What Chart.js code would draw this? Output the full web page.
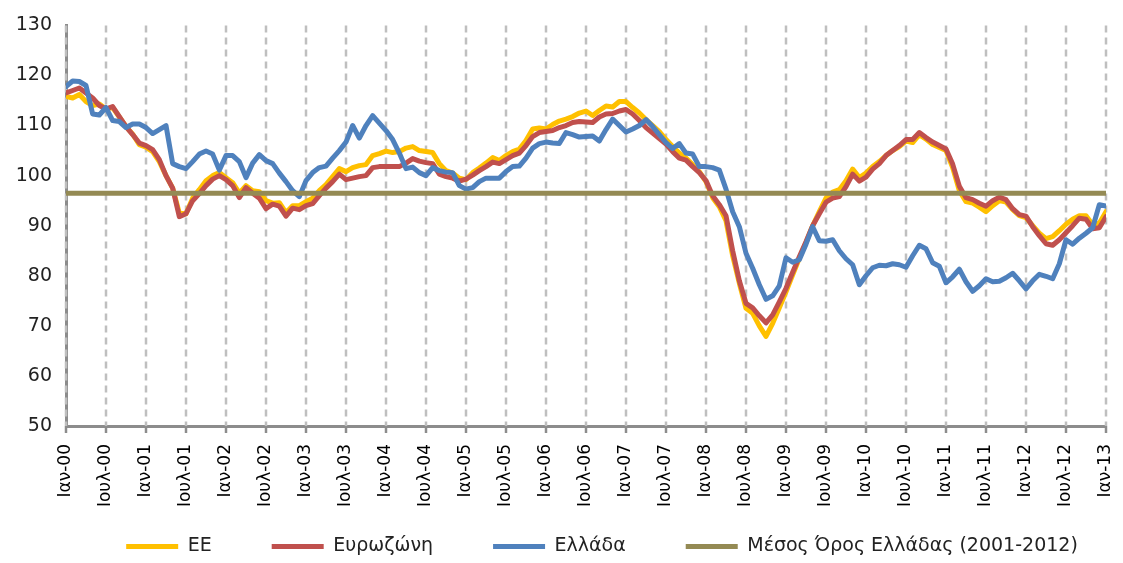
<!DOCTYPE html>
<html>
<head>
<meta charset="utf-8">
<script src="https://cdn.jsdelivr.net/npm/chart.js@4.4.1/dist/chart.umd.min.js"></script>
<style>
  html, body { margin: 0; padding: 0; background: #fff; }
  #wrap { width: 1123px; height: 563px; }
</style>
</head>
<body>
<div id="wrap"><canvas id="canvas1"></canvas></div>
<script>
// monthly, Jan 2000 .. Jan 2013
var tickLabels = [
  "Ιαν-00", "Ιουλ-00", "Ιαν-01", "Ιουλ-01", "Ιαν-02", "Ιουλ-02", "Ιαν-03", "Ιουλ-03",
  "Ιαν-04", "Ιουλ-04", "Ιαν-05", "Ιουλ-05", "Ιαν-06", "Ιουλ-06", "Ιαν-07", "Ιουλ-07",
  "Ιαν-08", "Ιουλ-08", "Ιαν-09", "Ιουλ-09", "Ιαν-10", "Ιουλ-10", "Ιαν-11", "Ιουλ-11",
  "Ιαν-12", "Ιουλ-12", "Ιαν-13"
];

var seriesNames = ["ΕΕ", "Ευρωζώνη", "Ελλάδα", "Μέσος Όρος Ελλάδας (2001-2012)"];

var eu = [
  115.8, 115.5, 116.2, 114.8, 114.0, 114.3, 113.3, 113.6, 111.7, 109.8, 108.3, 106.2,
  105.7, 104.8, 102.8, 100.0, 97.5, 92.5, 92.4, 95.5, 97.2, 99.0, 100.0, 100.6,
  99.6, 98.6, 96.5, 98.0, 97.0, 96.8, 95.0, 94.5, 94.6, 92.6, 94.0, 94.0,
  94.8, 95.5, 97.0, 98.2, 99.8, 101.4, 100.8, 101.6, 102.0, 102.2, 104.0, 104.4,
  104.9, 104.6, 104.8, 105.5, 105.8, 105.0, 104.8, 104.6, 102.4, 101.0, 100.5, 99.5,
  99.2, 100.6, 101.5, 102.5, 103.6, 103.0, 104.0, 104.8, 105.3, 107.0, 109.3, 109.5,
  109.3, 110.2, 110.9, 111.3, 111.8, 112.5, 112.9, 112.0, 113.0, 113.9, 113.7, 114.8,
  114.8, 113.6, 112.5, 111.2, 110.0, 108.8, 107.2, 105.8, 104.5, 103.5, 102.2, 100.8,
  98.8, 95.6, 93.8, 91.0, 84.0, 78.5, 73.5, 72.5, 70.0, 67.9, 70.5, 73.6,
  76.8, 80.2, 83.5, 86.6, 90.0, 92.8, 95.5, 96.7, 97.2, 99.0, 101.3, 99.6,
  100.5, 101.8, 102.8, 104.0, 105.0, 105.8, 106.9, 106.6, 108.2, 107.3, 106.2, 105.6,
  105.0, 101.6, 97.0, 94.8, 94.5, 93.7, 92.8, 94.0, 95.0, 94.7, 93.2, 92.0,
  91.6, 90.0, 88.5, 87.4, 87.8, 89.0, 90.3, 91.3, 92.0, 92.0, 90.2, 90.5,
  92.8
];

var eurozone = [
  116.5, 117.0, 117.5, 116.5, 115.5, 114.0, 113.3, 113.8, 111.8, 109.8, 108.2, 106.5,
  106.0, 105.2, 103.2, 100.0, 97.5, 91.8, 92.4, 95.0, 96.4, 98.0, 99.3, 100.0,
  99.2, 98.0, 95.6, 97.6, 96.5, 95.5, 93.4, 94.3, 93.9, 91.9, 93.5, 93.2,
  94.0, 94.4, 96.0, 97.5, 98.8, 100.3, 99.2, 99.5, 99.8, 100.0, 101.6, 101.8,
  101.8, 101.8, 101.8, 102.5, 103.4, 102.9, 102.6, 102.4, 100.3, 99.8, 99.5, 98.9,
  99.3, 100.1, 101.0, 101.8, 102.7, 102.4, 103.2, 104.0, 104.5, 106.0, 107.8, 108.6,
  108.8, 109.0, 109.6, 110.0, 110.6, 110.8, 110.7, 110.6, 111.7, 112.3, 112.4, 112.9,
  113.2, 112.3, 111.0, 109.6, 108.5, 107.4, 106.3, 104.8, 103.5, 103.1, 101.8, 100.6,
  99.0, 96.0, 94.2, 92.0, 85.0, 79.0, 74.5, 73.6, 72.0, 70.6, 72.2, 74.8,
  77.5, 80.7, 83.8, 86.8, 90.0, 92.4, 94.7, 95.5, 95.8, 97.8, 100.3, 98.9,
  99.7, 101.3, 102.4, 104.0, 105.0, 106.0, 107.2, 107.2, 108.6, 107.6, 106.7, 106.0,
  105.3, 102.3, 97.9, 95.6, 95.2, 94.5, 93.9, 95.0, 95.7, 95.2, 93.4, 92.2,
  91.9, 89.8, 88.0, 86.4, 86.1, 87.2, 88.6, 90.0, 91.5, 91.3, 89.4, 89.6,
  91.8
];

var greece = [
  117.8, 118.9, 118.8, 118.0, 112.3, 112.1, 113.6, 111.0, 110.8, 109.6, 110.3, 110.3,
  109.6, 108.4, 109.2, 110.0, 102.4, 101.8, 101.4, 102.8, 104.3, 104.9, 104.3, 101.1,
  104.0, 104.0, 102.8, 99.6, 102.5, 104.2, 103.0, 102.4, 100.5, 98.8, 97.0, 95.8,
  99.0, 100.6, 101.6, 101.9, 103.5, 105.0, 106.7, 110.0, 107.5, 110.0, 112.0, 110.5,
  109.0, 107.2, 104.5, 101.4, 101.7, 100.6, 100.0, 101.6, 101.0, 100.7, 100.6, 98.0,
  97.3, 97.6, 98.8, 99.5, 99.5, 99.5, 100.8, 101.8, 101.9, 103.5, 105.5, 106.4,
  106.7, 106.5, 106.4, 108.6, 108.2, 107.7, 107.8, 107.9, 106.9, 109.2, 111.3, 110.0,
  108.7, 109.3, 110.0, 111.2, 109.8, 108.2, 106.6, 105.4, 106.4, 104.5, 104.3, 101.8,
  101.8, 101.6, 101.1, 97.3, 92.8, 89.8, 84.5, 81.5, 78.2, 75.3, 76.0, 78.0,
  83.6, 82.7, 83.2, 86.3, 89.8, 87.0, 86.9, 87.2, 85.0, 83.4, 82.2, 78.2,
  80.0, 81.6, 82.1, 82.0, 82.4, 82.2, 81.7, 84.0, 86.1, 85.4, 82.6, 81.9,
  78.6, 79.8, 81.3, 78.8, 76.9, 78.0, 79.4, 78.8, 78.9, 79.6, 80.5, 79.0,
  77.4, 79.0, 80.3, 79.9, 79.4, 82.4, 87.2, 86.3, 87.5, 88.5, 89.6, 94.2,
  93.9
];

var greeceMean = 96.5;

var colors = ["#FFC000", "#C0504D", "#4F81BD", "#948A54"];

function toPoints(arr) {
  return arr.map(function(v, i) { return { x: i, y: v }; });
}

var lastIdx = greece.length - 1;
var fontFam = "'DejaVu Sans', 'Noto Sans', sans-serif";
var legendPad = 60;

function lineSet(idx, pts, order) {
  return {
    label: seriesNames[idx],
    data: pts,
    borderColor: colors[idx],
    backgroundColor: colors[idx],
    borderWidth: 5,
    pointRadius: 0,
    pointHoverRadius: 0,
    tension: 0,
    borderJoinStyle: 'round',
    borderCapStyle: 'round',
    order: order
  };
}

// dashed vertical gridlines + tick marks, one per tick of the x scale
var vGrid = {
  id: 'vGrid',
  afterLayout: function(chart) {
    // wide item spacing without eating the plot: move the legend box by hand
    var lg = chart.legend;
    lg.top = 537 - legendPad;
    lg.bottom = chart.height;
    lg.left += 47;
    lg.right += 47;
  },
  beforeDatasetsDraw: function(chart) {
    var xs = chart.scales.x, area = chart.chartArea, c = chart.ctx;
    c.save();
    xs.ticks.forEach(function(t) {
      var px = Math.round(xs.getPixelForValue(t.value));
      c.lineWidth = 2.5;
      c.strokeStyle = '#BFBFBF';
      c.setLineDash([7, 5]);
      c.beginPath();
      c.moveTo(px, area.top);
      c.lineTo(px, area.bottom);
      c.stroke();
      c.setLineDash([]);
      c.strokeStyle = '#8C8C8C';
      c.beginPath();
      c.moveTo(px, area.bottom);
      c.lineTo(px, area.bottom + 7);
      c.stroke();
    });
    c.restore();
  }
};

window.onload = function() {
  var ctx = document.getElementById("canvas1").getContext("2d");
  window.myLine = new Chart(ctx, {
    type: 'line',
    data: {
      datasets: [
        lineSet(0, toPoints(eu), 4),
        lineSet(1, toPoints(eurozone), 3),
        lineSet(2, toPoints(greece), 2),
        lineSet(3, [{ x: 0, y: greeceMean }, { x: lastIdx, y: greeceMean }], 1)
      ]
    },
    plugins: [vGrid],
    options: {
      responsive: true,
      maintainAspectRatio: false,
      animation: false,
      layout: { padding: { left: 4, right: 17, top: 1, bottom: 0 } },
      plugins: {
        tooltip: { enabled: false },
        legend: {
          position: 'bottom',
          maxHeight: 48,
          labels: {
            usePointStyle: true,
            pointStyle: 'line',
            pointStyleWidth: 52,
            boxHeight: 19,
            padding: legendPad,
            color: '#222',
            font: { family: fontFam, size: 19 },
            sort: function(a, b) { return a.datasetIndex - b.datasetIndex; }
          }
        }
      },
      scales: {
        x: {
          type: 'linear',
          min: 0,
          max: lastIdx,
          afterBuildTicks: function(scale) {
            scale.ticks = tickLabels.map(function(l, i) { return { value: i * 6 }; });
          },
          ticks: {
            autoSkip: false,
            maxRotation: 90,
            minRotation: 90,
            padding: 10,
            color: '#000',
            font: { family: fontFam, size: 17 },
            callback: function(v, i) { return tickLabels[i]; }
          },
          grid: { display: false },
          border: { display: true, color: '#8C8C8C', width: 3 },
          afterFit: function(scale) {
            scale.height = 89;
            scale.paddingRight = 0;
            scale.paddingLeft = 0;
          }
        },
        y: {
          min: 50,
          max: 130,
          ticks: {
            stepSize: 10,
            padding: 14,
            color: '#222',
            font: { family: fontFam, size: 19 }
          },
          grid: { display: true, drawOnChartArea: false, drawTicks: false },
          border: { display: true, color: '#8C8C8C', width: 3 },
          afterFit: function(scale) { scale.width = 62; }
        }
      }
    }
  });
};
</script>
</body>
</html>
